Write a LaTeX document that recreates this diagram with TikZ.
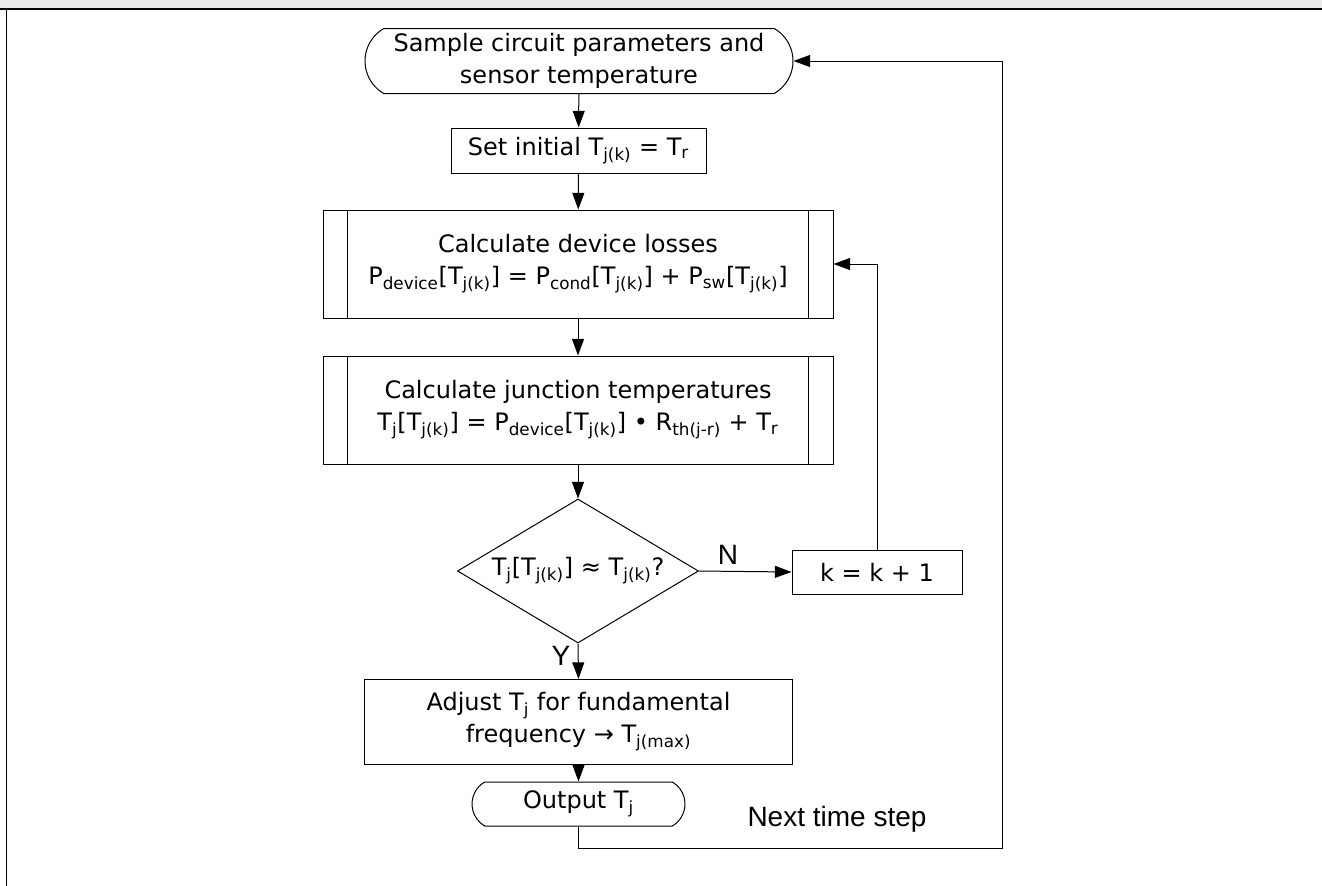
\documentclass[tikz,border=0pt]{standalone}
\usepackage{fontspec}
\setmainfont{DejaVu Sans}
\newfontfamily\labfont{Liberation Sans}
\usetikzlibrary{shapes.misc,shapes.geometric,arrows.meta}
\newcommand\ssub[1]{\textsubscript{#1}}
\begin{document}
\begin{tikzpicture}[x=0.75pt,y=-0.75pt,
  every node/.style={font=\fontsize{18}{24}\selectfont, inner sep=0pt, align=center},
  conn/.style={draw=black, line width=0.75pt},
  arr/.style={conn, -{Triangle[length=12.5pt,width=9pt]}},
  procbox/.style={draw=black, line width=0.75pt, rectangle},
  termbox/.style={draw=black, line width=0.75pt, rounded rectangle, rounded rectangle arc length=120},
  lab/.style={font=\labfont\fontsize{21}{23}\selectfont}
]
\useasboundingbox (0,0) rectangle (1322,886);
% frame
\fill[black!8] (0,0) rectangle (1322,8);
\draw[line width=1.5pt] (0,8.5) -- (1322,8.5);
\draw[line width=1.2pt] (6.5,8.5) -- (6.5,886);

% nodes
\node[termbox, minimum width=321pt, minimum height=48.75pt] (start) at (579,61)
  {Sample circuit parameters and\\sensor temperature};
\node[procbox, minimum width=191.25pt, minimum height=33.75pt] (init) at (578.5,150.5)
  {Set initial T\ssub{j(k)} = T\ssub{r}};
\node[procbox, minimum width=382.5pt, minimum height=81pt] (dev) at (578,264)
  {Calculate device losses\\P\ssub{device}[T\ssub{j(k)}] = P\ssub{cond}[T\ssub{j(k)}] + P\ssub{sw}[T\ssub{j(k)}]};
\node[procbox, minimum width=382.5pt, minimum height=81pt] (junc) at (578,410)
  {Calculate junction temperatures\\T\ssub{j}[T\ssub{j(k)}] = P\ssub{device}[T\ssub{j(k)}] • R\ssub{th(j-r)} + T\ssub{r}};
\node[diamond, draw=black, line width=0.75pt, minimum width=180.75pt, minimum height=108pt] (dec) at (578,571) {};
\node at (dec.center) {T\ssub{j}[T\ssub{j(k)}] ≈ T\ssub{j(k)}?};
\node[procbox, minimum width=127.5pt, minimum height=33pt] (kk) at (877,572) {k = k + 1};
\node[procbox, minimum width=321pt, minimum height=63.75pt] (adj) at (578.5,722)
  {Adjust T\ssub{j} for fundamental\\frequency → T\ssub{j(max)}};
\node[termbox, minimum width=159.75pt, minimum height=33pt] (out) at (578.5,804) {Output T\ssub{j}};

% predefined-process side bars
\foreach \n in {dev,junc}{
  \draw[line width=0.75pt] ([xshift=18.75pt]\n.north west) -- ([xshift=18.75pt]\n.south west);
  \draw[line width=0.75pt] ([xshift=-18.75pt]\n.north east) -- ([xshift=-18.75pt]\n.south east);
}

% connectors
\draw[arr] (start) -- (init);
\draw[arr] (init) -- (dev);
\draw[arr] (dev) -- (junc);
\draw[arr] (junc) -- (dec);
\draw[arr] (dec.east) -- (kk.west);
\draw[arr] (kk.north) |- (dev.east);
\draw[arr] (dec.south) -- (adj.north);
\draw[arr] (adj) -- (out);
\coordinate (rc) at (1002,848);
\draw[arr] (out.south) |- (rc) |- (start.east);

% labels
\node[lab] (nlab) at (728,555) {N};
\node[lab] (ylab) at (561,656) {Y};
\node[lab] (nts) at (837,819) {Next time step};
\end{tikzpicture}
\end{document}
